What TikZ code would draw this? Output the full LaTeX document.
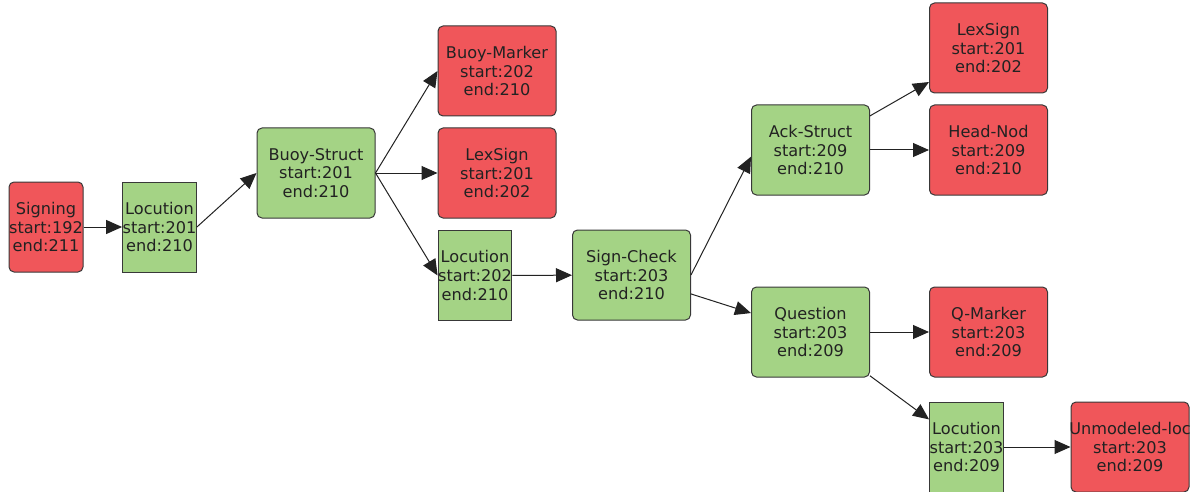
\documentclass[tikz,border=0pt]{standalone}
\usepackage{fontspec}
\setmainfont{DejaVu Sans}
\usetikzlibrary{arrows.meta}
\definecolor{redbox}{RGB}{240,86,90}
\definecolor{greenbox}{RGB}{164,211,133}
\definecolor{inkgray}{RGB}{34,34,34}
\tikzset{
  seg/.style={draw=inkgray!90, line width=0.75pt, text=inkgray, align=center,
    inner sep=0pt, minimum height=67.5pt, font=\fontsize{12.1}{13.9}\selectfont},
  leaf/.style={seg, fill=redbox, rounded corners=3.75pt, minimum width=88.5pt},
  inner/.style={seg, fill=greenbox, rounded corners=3.75pt, minimum width=88.5pt},
  loc/.style={seg, fill=greenbox, minimum width=55pt},
  link/.style={-{Triangle[length=12pt,width=10.5pt]}, line width=0.75pt, draw=inkgray}
}
\begin{document}
\begin{tikzpicture}[x=0.75pt,y=-0.75pt]
\useasboundingbox (0,0) rectangle (1197,492);
\node[leaf, minimum width=55.5pt] (signing) at (46,227) {Signing\\start:192\\end:211};
\node[loc] (loc1) at (159.5,227) {Locution\\start:201\\end:210};
\node[inner] (buoy) at (316,173) {Buoy-Struct\\start:201\\end:210};
\node[leaf] (marker) at (497,71) {Buoy-Marker\\start:202\\end:210};
\node[leaf] (lex1) at (497,173) {LexSign\\start:201\\end:202};
\node[loc] (loc2) at (475,275.5) {Locution\\start:202\\end:210};
\node[inner] (check) at (631.5,275) {Sign-Check\\start:203\\end:210};
\node[inner] (ack) at (810.5,150) {Ack-Struct\\start:209\\end:210};
\node[leaf] (lex2) at (988.5,48) {LexSign\\start:201\\end:202};
\node[leaf] (nod) at (988.5,150) {Head-Nod\\start:209\\end:210};
\node[inner] (quest) at (810.5,332) {Question\\start:203\\end:209};
\node[leaf] (qmark) at (988.5,332) {Q-Marker\\start:203\\end:209};
\node[loc] (loc3) at (966.5,447) {Locution\\start:203\\end:209};
\node[leaf] (unmod) at (1130,447) {\makebox[80pt][c]{Unmodeled-loc}\\start:203\\end:209};
% edges
\draw[link] (signing) -- (loc1);
\draw[link] (loc1.east) -- (buoy.west);
\draw[link] (buoy.east) -- (marker.west);
\draw[link] (buoy) -- (lex1);
\draw[link] (buoy.east) -- (loc2.west);
\draw[link] (loc2) -- (check);
\draw[link] (check.east) -- ([yshift=-5]ack.west);
\draw[link] (check) -- (quest);
\draw[link] (ack) -- (lex2);
\draw[link] (ack) -- (nod);
\draw[link] (quest) -- (qmark);
\draw[link] (quest) -- (loc3);
\draw[link] (loc3) -- (unmod);
\end{tikzpicture}
\end{document}
